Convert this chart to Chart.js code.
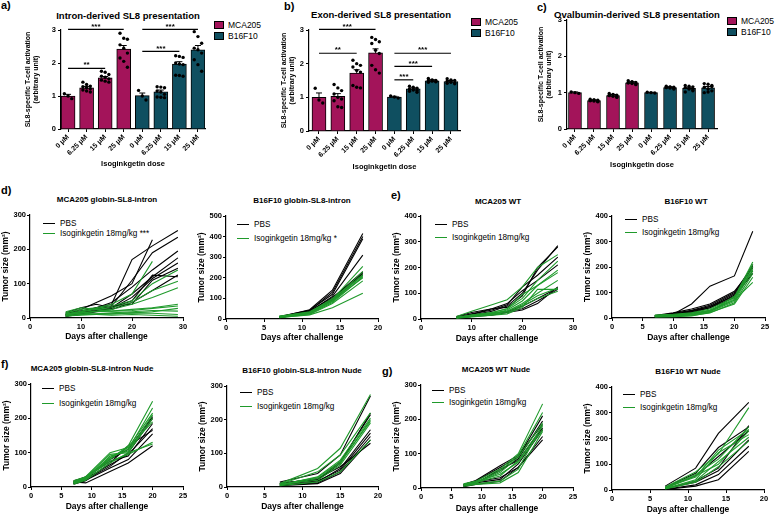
<!DOCTYPE html>
<html><head><meta charset="utf-8">
<script src="https://cdn.jsdelivr.net/npm/chart.js@4.4.1/dist/chart.umd.min.js"></script>
<style>
body{margin:0;width:779px;height:515px;background:#fff;position:relative;overflow:hidden;font-family:"Liberation Sans",Arial,sans-serif;}
canvas{position:absolute;}
.t{position:absolute;white-space:nowrap;color:#000;line-height:1;}
.pl{font-weight:bold;font-size:11px;}
.ti{font-weight:bold;transform:translate(-50%,-50%);}
.lg{font-size:8.2px;transform:translateY(-50%);}
.sw{position:absolute;height:0;}
.bx{position:absolute;width:10px;height:8px;border:1px solid #000;box-sizing:border-box;}
</style>
</head><body>
<script>
// ---------------- DATA ----------------
const doseLabels = ['0 μM','6.25 μM','15 μM','25 μM','0 μM','6.25 μM','15 μM','25 μM'];
const seriesNames = ['MCA205','B16F10'];

const introMCA205 = [1.0, 1.25, 1.55, 2.42];
const introB16F10 = [1.01, 1.13, 1.97, 2.40];
const introSEM = [0.05, 0.04, 0.04, 0.11, 0.08, 0.05, 0.07, 0.13];
const introPoints = [
  [1.07, 1.0, 0.92],
  [1.42, 1.35, 1.3, 1.28, 1.25, 1.22, 1.18, 1.15, 1.12],
  [1.75, 1.72, 1.65, 1.6, 1.57, 1.52, 1.48, 1.45, 1.42],
  [2.9, 2.75, 2.72, 2.55, 2.45, 2.3, 2.15, 2.05, 1.87],
  [1.17, 1.0, 0.88],
  [1.28, 1.27, 1.25, 1.15, 1.12, 1.05, 0.97, 0.96, 0.95],
  [2.22, 2.2, 2.17, 2.0, 1.97, 1.95, 1.63, 1.62, 1.6],
  [2.95, 2.8, 2.6, 2.45, 2.4, 2.3, 2.1, 1.95, 1.75]
];
const introSig = [[0,3,3.02,'***'],[0,2,1.84,'**'],[4,7,3.02,'***'],[4,6,2.35,'***']];

const exonMCA205 = [1.0, 1.03, 1.72, 2.32];
const exonB16F10 = [1.01, 1.25, 1.49, 1.47];
const exonSEM = [0.13, 0.08, 0.1, 0.12, 0.02, 0.03, 0.03, 0.03];
const exonPoints = [
  [1.27, 0.92, 0.83],
  [1.38, 1.28, 1.2, 1.1, 1.0, 0.95, 0.9, 0.72, 0.7],
  [2.1, 2.0, 1.95, 1.9, 1.8, 1.75, 1.35, 1.3, 1.28],
  [2.78, 2.72, 2.65, 2.6, 2.4, 2.3, 1.95, 1.82, 1.72],
  [1.04, 1.01, 0.98],
  [1.33, 1.3, 1.27, 1.25, 1.22, 1.2, 1.18, 1.25, 1.15],
  [1.56, 1.52, 1.5, 1.5, 1.48, 1.46, 1.45, 1.5, 1.47],
  [1.55, 1.52, 1.5, 1.48, 1.45, 1.43, 1.42, 1.47, 1.4]
];
const exonSig = [[0,3,3.02,'***'],[0,2,2.31,'**'],[4,7,2.31,'***'],[4,6,1.92,'***'],[4,5,1.52,'***']];

const ovaMCA205 = [1.0, 0.78, 0.92, 1.27];
const ovaB16F10 = [1.0, 1.14, 1.12, 1.13];
const ovaSEM = [0.02, 0.02, 0.03, 0.03, 0.01, 0.02, 0.03, 0.04];
const ovaPoints = [
  [1.02, 1.0, 0.98],
  [0.82, 0.8, 0.79, 0.78, 0.77, 0.76, 0.78, 0.8, 0.75],
  [0.98, 0.95, 0.93, 0.92, 0.9, 0.89, 0.92, 0.94, 0.87],
  [1.33, 1.3, 1.28, 1.27, 1.25, 1.24, 1.27, 1.29, 1.22],
  [1.01, 1.0, 0.99],
  [1.18, 1.16, 1.15, 1.14, 1.13, 1.12, 1.14, 1.15, 1.1],
  [1.2, 1.18, 1.16, 1.14, 1.12, 1.05, 1.02, 1.1, 1.08],
  [1.25, 1.23, 1.2, 1.15, 1.1, 1.05, 1.0, 1.02, 1.17]
];
const ovaSig = [];

// d) MCA205 globin-SL8-intron
const d1Days = [7, 10, 13, 16, 20, 24, 29];
const d1PBS = [
  [10, 20, 30, 40, 170, 210, 255],
  [5, 15, 25, 35, 110, 190, 235],
  [12, 25, 45, 65, 100, 228, null],
  [8, 18, 30, 45, 90, 140, 195],
  [15, 30, 40, 30, 70, 120, 175],
  [6, 12, 20, 28, 60, 115, 160],
  [10, 20, 28, 35, 40, 110, 145],
  [8, 15, 22, 30, 50, 125, 120],
  [5, 10, 18, 25, 45, 80, 125]
];
const d1Iso = [
  [15, 25, 30, 40, 70, 165, null],
  [10, 20, 28, 35, 50, 100, 140],
  [12, 18, 25, 30, 45, 80, 107],
  [8, 15, 20, 25, 40, 60, 88],
  [18, 30, 25, 20, 25, 30, 40],
  [10, 15, 18, 20, 22, 28, 35],
  [5, 10, 12, 15, 18, 22, 20],
  [8, 10, 12, 12, 15, 14, 10],
  [12, 15, 10, 8, 10, 8, 5],
  [6, 8, 10, 12, 15, 18, 28]
];
// d) B16F10 globin-SL8-intron
const d2Days = [7, 11, 14, 18];
const d2PBS = [
  [10, 45, 140, 415], [8, 40, 130, 400], [12, 42, 120, 390], [5, 35, 110, 310],
  [10, 40, 100, 230], [8, 38, 95, 225], [6, 30, 90, 215], [10, 35, 105, 220]
];
const d2Iso = [
  [12, 35, 95, 255], [10, 30, 90, 230], [8, 28, 85, 215], [14, 32, 100, 210],
  [10, 25, 80, 205], [6, 22, 75, 185], [8, 20, 55, 125], [12, 30, 88, 200]
];
// e) MCA205 WT
const e1Days = [7, 10, 14, 17, 20, 23, 27];
const e1PBS = [
  [5, 15, 30, 50, 100, 190, 285], [8, 20, 35, 55, 125, 170, 240], [5, 18, 40, 60, 110, 150, 210],
  [10, 25, 40, 45, 90, 200, 280], [3, 10, 15, 25, 35, 60, 125], [5, 12, 20, 30, 40, 70, 115],
  [4, 10, 22, 28, 50, 80, 120]
];
const e1Iso = [
  [10, 30, 55, 75, 125, 200, 250], [5, 15, 25, 40, 80, 150, 225], [6, 12, 20, 35, 70, 130, 190],
  [4, 10, 18, 30, 60, 100, 150], [5, 14, 22, 30, 55, 90, 120], [3, 8, 15, 20, 45, 115, 115],
  [6, 12, 18, 25, 50, 80, 108], [8, 15, 25, 40, 95, 130, 180]
];
// e) B16F10 WT
const e2Days = [7, 10, 13, 16, 20, 23];
const e2PBS = [
  [10, 15, 55, 125, 165, 340], [8, 18, 30, 50, 100, 205], [5, 15, 28, 45, 95, 200],
  [10, 20, 35, 55, 105, 195], [6, 12, 25, 40, 90, 185], [8, 15, 25, 45, 85, 175], [4, 10, 20, 40, 80, 210]
];
const e2Iso = [
  [12, 15, 20, 35, 80, 220], [10, 12, 18, 30, 75, 210], [8, 10, 15, 28, 70, 200], [6, 8, 12, 25, 65, 190],
  [5, 6, 10, 20, 60, 175], [4, 5, 8, 22, 55, 160], [10, 12, 15, 30, 70, 140], [8, 10, 12, 25, 85, 185]
];
// f) MCA205 globin-SL8-intron Nude
const f1Days = [7, 9, 13, 16, 20];
const f1PBS = [
  [15, 12, 45, 70, 120], [10, 20, 55, 80, 155], [12, 25, 65, 95, 170], [18, 28, 75, 90, 185],
  [10, 22, 60, 100, 200], [15, 30, 80, 110, 205], [8, 18, 70, 120, 165]
];
const f1Iso = [
  [12, 25, 80, 120, 250], [15, 28, 85, 110, 230], [18, 30, 100, 115, 215], [10, 22, 90, 105, 210],
  [14, 26, 75, 95, 130], [8, 20, 70, 100, 125], [16, 28, 95, 100, 200], [12, 24, 85, 115, 190]
];
// f) B16F10 globin-SL8-intron Nude
const f2Days = [7, 12, 15, 19];
const f2PBS = [
  [15, 40, 95, 270], [10, 20, 70, 220], [5, 15, 55, 170], [8, 18, 50, 160],
  [6, 12, 45, 150], [4, 10, 40, 140], [10, 25, 60, 130], [12, 22, 75, 215]
];
const f2Iso = [
  [10, 55, 115, 275], [8, 45, 95, 220], [6, 30, 80, 205], [5, 25, 70, 200],
  [8, 20, 65, 190], [4, 15, 45, 140], [7, 28, 75, 195]
];
// g) MCA205 WT Nude
const g1Days = [7, 9, 13, 16, 20];
const g1PBS = [
  [10, 20, 60, 90, 210], [8, 15, 50, 85, 195], [6, 12, 55, 80, 175], [5, 15, 25, 70, 170],
  [8, 18, 30, 60, 150], [4, 10, 20, 60, 140], [10, 22, 65, 95, 185]
];
const g1Iso = [
  [12, 20, 55, 100, 245], [10, 15, 50, 95, 220], [8, 14, 45, 90, 190], [6, 12, 20, 55, 185],
  [9, 18, 40, 75, 170], [5, 10, 15, 45, 165], [11, 16, 35, 80, 180]
];
// g) B16F10 WT Nude
const g2Days = [7, 11, 14, 18];
const g2PBS = [
  [15, 85, 220, 340], [10, 65, 165, 245], [8, 55, 130, 230], [5, 35, 85, 250],
  [3, 20, 60, 170], [2, 15, 40, 150], [6, 30, 75, 195]
];
const g2Iso = [
  [12, 70, 140, 320], [10, 60, 120, 245], [8, 55, 100, 230], [6, 40, 145, 215],
  [5, 35, 110, 205], [4, 30, 90, 190], [9, 50, 155, 235]
];

// ---------------- STYLE / HELPERS ----------------
const FONT = '"Liberation Sans", Arial, sans-serif';
const BLACK = '#000000', GREEN = '#1F9A2B', CRIMSON = '#A3145A', TEAL = '#0F4F60';

function txt(s, x, y, cls, extra) {
  const d = document.createElement('div');
  d.className = 't ' + cls;
  d.textContent = s;
  d.style.left = x + 'px'; d.style.top = y + 'px';
  if (extra) Object.assign(d.style, extra);
  document.body.appendChild(d);
  return d;
}
function lineLegend(x, y, items) {
  items.forEach((it, k) => {
    const yy = y[k];
    const sw = document.createElement('div');
    sw.className = 'sw';
    sw.style.left = x + 'px'; sw.style.top = (yy - 0.75) + 'px';
    sw.style.width = '12px'; sw.style.borderTop = '1.5px solid ' + it[1];
    document.body.appendChild(sw);
    txt(it[0], x + 17, yy, 'lg');
  });
}
function barLegend(x, y) {
  [[seriesNames[0], CRIMSON], [seriesNames[1], TEAL]].forEach((it, k) => {
    const b = document.createElement('div');
    b.className = 'bx';
    b.style.left = x + 'px'; b.style.top = (y + k * 11) + 'px';
    b.style.background = it[1];
    document.body.appendChild(b);
    txt(it[0], x + 14, y + k * 11 + 4, 'lg', {fontSize: '8.5px'});
  });
}
function makeCanvas(area, yw, xh) {
  const padL = 2, padT = 10, padR = 12, padB = 2;
  const c = document.createElement('canvas');
  const left = area[0] - yw - padL, top = area[1] - padT;
  const w = area[2] - area[0] + yw + padL + padR;
  const h = area[3] - area[1] + xh + padT + padB;
  c.width = w; c.height = h;
  c.style.left = left + 'px'; c.style.top = top + 'px';
  c.style.width = w + 'px'; c.style.height = h + 'px';
  document.body.appendChild(c);
  return {c, padding: {left: padL, top: padT, right: padR, bottom: padB}};
}
function axisCommon(fontSize) {
  return {
    grid: {display: true, drawOnChartArea: false, drawTicks: true, tickLength: 3, color: '#000', lineWidth: 1},
    border: {display: true, color: '#000', width: 1.2},
  };
}

function lineChart(area, yw, xh, days, pbs, iso, xmax, xstep, ymax) {
  const {c, padding} = makeCanvas(area, yw, xh);
  const ds = [];
  const toPts = v => v.map((y, i) => ({x: days[i], y})).filter(p => p.y !== null);
  pbs.forEach(v => ds.push({label: 'PBS', data: toPts(v), borderColor: BLACK, order: 1}));
  iso.forEach(v => ds.push({label: 'Isoginkgetin 18mg/kg', data: toPts(v), borderColor: GREEN, order: 0}));
  new Chart(c, {
    type: 'line',
    data: {datasets: ds},
    options: {
      responsive: false, animation: false, devicePixelRatio: 1, events: [],
      layout: {padding},
      plugins: {legend: {display: false}, tooltip: {enabled: false}},
      elements: {point: {radius: 0}, line: {borderWidth: 1.1, tension: 0}},
      scales: {
        x: Object.assign(axisCommon(), {
          type: 'linear', min: 0, max: xmax,
          ticks: {stepSize: xstep, color: '#000', padding: 1, font: {family: FONT, size: 7.5, weight: 'bold'}},
          title: {display: true, text: 'Days after challenge', color: '#000', padding: 0, font: {family: FONT, size: 8.5, weight: 'bold'}},
          afterFit: s => { s.height = xh; }
        }),
        y: Object.assign(axisCommon(), {
          type: 'linear', min: 0, max: ymax,
          ticks: {stepSize: 100, color: '#000', padding: 1, font: {family: FONT, size: 7.5, weight: 'bold'}},
          title: {display: true, text: 'Tumor size (mm²)', color: '#000', padding: 0, font: {family: FONT, size: 8.5, weight: 'bold'}},
          afterFit: s => { s.width = yw; }
        })
      }
    }
  });
}

function barChart(area, yw, xh, xmin, xmax, barW, mca, b16, sem, pts, sig) {
  const {c, padding} = makeCanvas(area, yw, xh);
  const means = mca.concat(b16);
  const dots = [];
  pts.forEach((arr, i) => arr.forEach((v, k) => dots.push({x: i + ((k % 3) - 1) * 0.2, y: v})));
  const deco = {
    id: 'deco',
    afterDatasetsDraw(chart) {
      const ctx = chart.ctx, xs = chart.scales.x, ys = chart.scales.y;
      ctx.save();
      ctx.strokeStyle = '#000'; ctx.fillStyle = '#000'; ctx.lineWidth = 1;
      means.forEach((m, i) => {
        const px = xs.getPixelForValue(i), y1 = ys.getPixelForValue(m), y2 = ys.getPixelForValue(m + sem[i]);
        ctx.beginPath(); ctx.moveTo(px, y1); ctx.lineTo(px, y2);
        ctx.moveTo(px - 3, y2); ctx.lineTo(px + 3, y2); ctx.stroke();
      });
      ctx.lineWidth = 1.2;
      ctx.font = 'bold 8px ' + FONT; ctx.textAlign = 'center'; ctx.textBaseline = 'bottom';
      sig.forEach(([a, b, yv, lab]) => {
        const x1 = xs.getPixelForValue(a), x2 = xs.getPixelForValue(b), py = ys.getPixelForValue(yv);
        ctx.beginPath(); ctx.moveTo(x1, py); ctx.lineTo(x2, py); ctx.stroke();
        ctx.fillText(lab, (x1 + x2) / 2, py + 1);
      });
      ctx.restore();
    }
  };
  new Chart(c, {
    type: 'bar',
    data: {datasets: [
      {type: 'bar', label: seriesNames[0], data: mca.map((v, i) => ({x: i, y: v})), backgroundColor: CRIMSON, borderColor: '#000', borderWidth: 1, barThickness: barW, grouped: false, order: 2},
      {type: 'bar', label: seriesNames[1], data: b16.map((v, i) => ({x: i + 4, y: v})), backgroundColor: TEAL, borderColor: '#000', borderWidth: 1, barThickness: barW, grouped: false, order: 2},
      {type: 'scatter', label: 'points', data: dots, pointRadius: 1.7, pointBackgroundColor: '#000', pointBorderWidth: 0, clip: false, order: 0}
    ]},
    options: {
      responsive: false, animation: false, devicePixelRatio: 1, events: [],
      layout: {padding},
      plugins: {legend: {display: false}, tooltip: {enabled: false}},
      scales: {
        x: Object.assign(axisCommon(), {
          type: 'linear', min: xmin, max: xmax, offset: false, bounds: 'data',
          grid: {display: true, drawOnChartArea: false, drawTicks: true, tickLength: 3, color: '#000', offset: false},
          afterBuildTicks: s => { s.ticks = doseLabels.map((_, i) => ({value: i})); },
          ticks: {autoSkip: false, minRotation: 45, maxRotation: 45, color: '#000', padding: 1,
                  font: {family: FONT, size: 7, weight: 'bold'}, callback: v => doseLabels[v]},
          title: {display: true, text: 'Isoginkgetin dose', color: '#000', padding: 0, font: {family: FONT, size: 7.5, weight: 'bold'}},
          afterFit: s => { s.height = xh; }
        }),
        y: Object.assign(axisCommon(), {
          type: 'linear', min: 0, max: 3,
          ticks: {stepSize: 1, color: '#000', padding: 2, font: {family: FONT, size: 7.5, weight: 'bold'}},
          title: {display: true, text: ['SL8-specific T-cell activation', '(arbitrary unit)'], color: '#000', padding: 0,
                  font: {family: FONT, size: 7, weight: 'bold', lineHeight: 1.15}},
          afterFit: s => { s.width = yw; }
        })
      }
    },
    plugins: [deco]
  });
}

// ---------------- TEXT ----------------
txt('a)', 1, 0, 'pl');
txt('b)', 284, 1, 'pl');
txt('c)', 537, 2, 'pl');
txt('d)', 1, 185, 'pl');
txt('e)', 391, 190, 'pl');
txt('f)', 1, 359, 'pl');
txt('g)', 382, 366, 'pl');

txt('Intron-derived SL8 presentation', 128, 16, 'ti', {fontSize: '9.5px'});
txt('Exon-derived SL8 presentation', 381, 15, 'ti', {fontSize: '9.5px'});
txt('Ovalbumin-derived SL8 presentation', 637, 15, 'ti', {fontSize: '9.5px'});

txt('MCA205 globin-SL8-intron', 107, 200, 'ti', {fontSize: '8px'});
txt('B16F10 globin-SL8-intron', 302, 201, 'ti', {fontSize: '8px'});
txt('MCA205 WT', 498, 202, 'ti', {fontSize: '8px'});
txt('B16F10 WT', 686, 202, 'ti', {fontSize: '8px'});
txt('MCA205 globin-SL8-intron Nude', 92, 369, 'ti', {fontSize: '8px'});
txt('B16F10 globin-SL8-intron Nude', 302, 371, 'ti', {fontSize: '8px'});
txt('MCA205 WT Nude', 496, 370, 'ti', {fontSize: '8px'});
txt('B16F10 WT Nude', 688, 372, 'ti', {fontSize: '8px'});

barLegend(214, 21);
barLegend(471, 18);
barLegend(727, 17);

lineLegend(43, [224, 234], [['PBS', BLACK], ['Isoginkgetin 18mg/kg ***', GREEN]]);
lineLegend(237, [225, 239], [['PBS', BLACK], ['Isoginkgetin 18mg/kg *', GREEN]]);
lineLegend(435, [225, 238], [['PBS', BLACK], ['Isoginkgetin 18mg/kg', GREEN]]);
lineLegend(625, [220, 233], [['PBS', BLACK], ['Isoginkgetin 18mg/kg', GREEN]]);
lineLegend(42, [389, 404], [['PBS', BLACK], ['Isoginkgetin 18mg/kg', GREEN]]);
lineLegend(240, [393, 407], [['PBS', BLACK], ['Isoginkgetin 18mg/kg', GREEN]]);
lineLegend(432, [391, 403], [['PBS', BLACK], ['Isoginkgetin 18mg/kg', GREEN]]);
lineLegend(623, [395, 408], [['PBS', BLACK], ['Isoginkgetin 18mg/kg', GREEN]]);

// ---------------- CHARTS ----------------
barChart([61, 30, 205, 129], 37, 39, -0.38, 7.38, 14, introMCA205, introB16F10, introSEM, introPoints, introSig);
barChart([309, 30, 460, 131], 29, 40, -0.53, 7.48, 14, exonMCA205, exonB16F10, exonSEM, exonPoints, exonSig);
barChart([567, 20, 717, 129], 30, 40, -0.42, 7.47, 13, ovaMCA205, ovaB16F10, ovaSEM, ovaPoints, ovaSig);

lineChart([30, 215, 183, 318], 29, 24, d1Days, d1PBS, d1Iso, 30, 10, 300);
lineChart([226, 216, 378, 319], 29, 24, d2Days, d2PBS, d2Iso, 20, 5, 500);
lineChart([421, 216, 573, 319], 29, 25, e1Days, e1PBS, e1Iso, 30, 10, 400);
lineChart([612, 216, 765, 318], 29, 25, e2Days, e2PBS, e2Iso, 25, 5, 400);
lineChart([31, 384, 183, 487], 29, 25, f1Days, f1PBS, f1Iso, 25, 5, 300);
lineChart([227, 386, 378, 487], 29, 25, f2Days, f2PBS, f2Iso, 20, 5, 300);
lineChart([421, 385, 573, 488], 29, 26, g1Days, g1PBS, g1Iso, 25, 5, 300);
lineChart([612, 387, 764, 490], 29, 25, g2Days, g2PBS, g2Iso, 20, 5, 400);
</script>
</body></html>
